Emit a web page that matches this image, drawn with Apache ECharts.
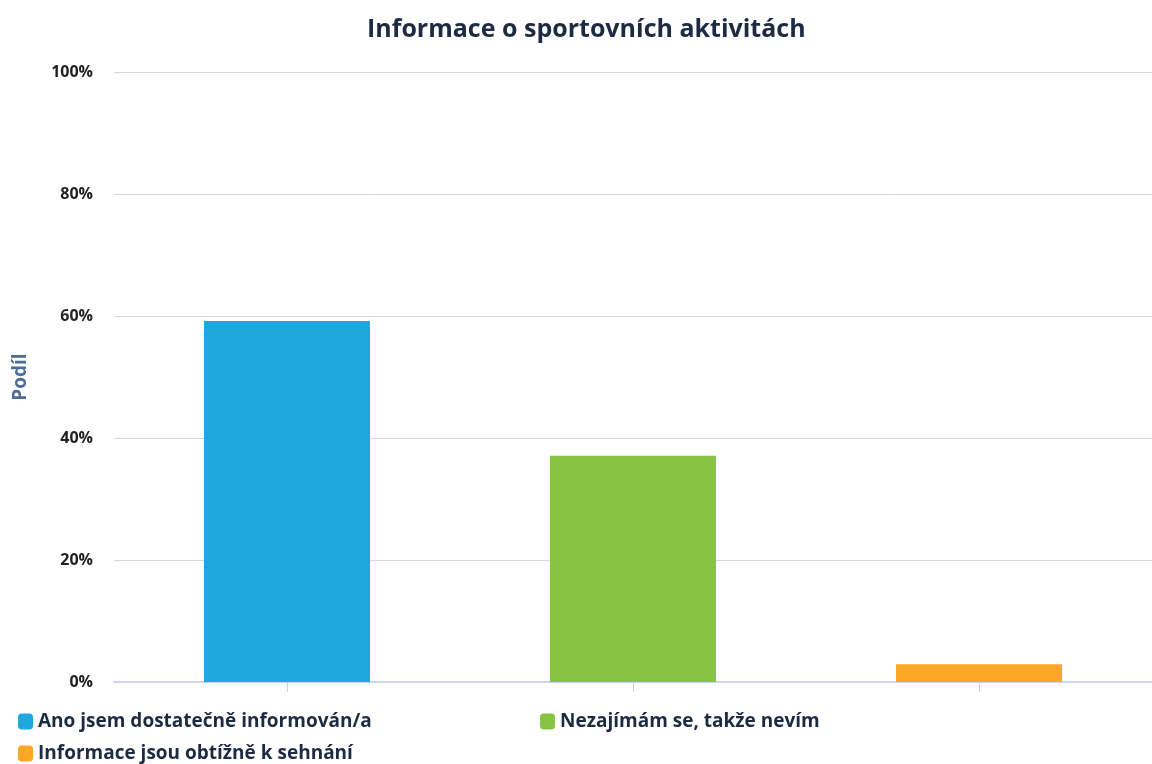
<!DOCTYPE html>
<html>
<head>
<meta charset="utf-8">
<script src="https://cdn.jsdelivr.net/npm/echarts@6/dist/echarts.min.js"></script>
<style>
  html, body { margin: 0; padding: 0; background: #fff; }
  #chart { width: 1152px; height: 764px; }
</style>
</head>
<body>
<div id="chart"></div>
<script>
// Survey: how well respondents feel informed about sport activities
const chartTitle = 'Informace o sportovních aktivitách';
const axisName = 'Podíl';
const categories = ['Ano jsem dostatečně informován/a', 'Nezajímám se, takže nevím', 'Informace jsou obtížně k sehnání'];
const shares = [59.2, 37.1, 2.9];
const colors = ['#1fa8e0', '#88c444', '#fba826'];
const yTicks = [0, 20, 40, 60, 80, 100];

const font = '"Open Sans", "Noto Sans", sans-serif';

// one series per answer so each gets its own legend entry
const series = categories.map((name, i) => ({
  name: name,
  type: 'bar',
  stack: 'answers',
  barWidth: 166,
  itemStyle: { color: colors[i] },
  data: categories.map((_, j) => (j === i ? shares[i] : '-'))
}));

const legendSpots = [
  { left: 13, top: 707 },
  { left: 535, top: 707 },
  { left: 13, top: 739 }
];

const chart = echarts.init(document.getElementById('chart'));
chart.setOption({
  animation: false,
  title: {
    text: chartTitle,
    left: 362,
    top: 12,
    textStyle: { fontFamily: font, fontSize: 25, fontWeight: 'bold', color: '#1c2b42' }
  },
  legend: categories.map((name, i) => ({
    data: [name],
    left: legendSpots[i].left,
    top: legendSpots[i].top,
    icon: 'roundRect',
    itemWidth: 15,
    itemHeight: 16,
    itemGap: 5,
    textStyle: { fontFamily: font, fontSize: 19, fontWeight: 'bold', color: '#1c2b42' }
  })),
  grid: { left: 114, right: -5, top: 72, bottom: 82, containLabel: false },
  xAxis: {
    type: 'category',
    data: categories,
    axisLine: { lineStyle: { color: '#ccd6eb', width: 2 } },
    axisTick: { show: true, alignWithLabel: true, length: 10, lineStyle: { color: '#c4d0e6', width: 1 } },
    axisLabel: { show: false }
  },
  yAxis: {
    type: 'value',
    min: 0,
    max: 100,
    interval: 20,
    name: axisName,
    nameLocation: 'middle',
    nameRotate: 90,
    nameGap: 84,
    nameTextStyle: { fontFamily: font, fontSize: 19, fontWeight: 'bold', color: '#4d6d94' },
    axisLabel: {
      fontFamily: font, fontSize: 16, fontWeight: 'bold', color: '#222',
      margin: 21,
      formatter: v => (yTicks.includes(v) ? v + '%' : '')
    },
    splitLine: { lineStyle: { color: '#d6d6d6', width: 1 } }
  },
  series: series
});
</script>
</body>
</html>
